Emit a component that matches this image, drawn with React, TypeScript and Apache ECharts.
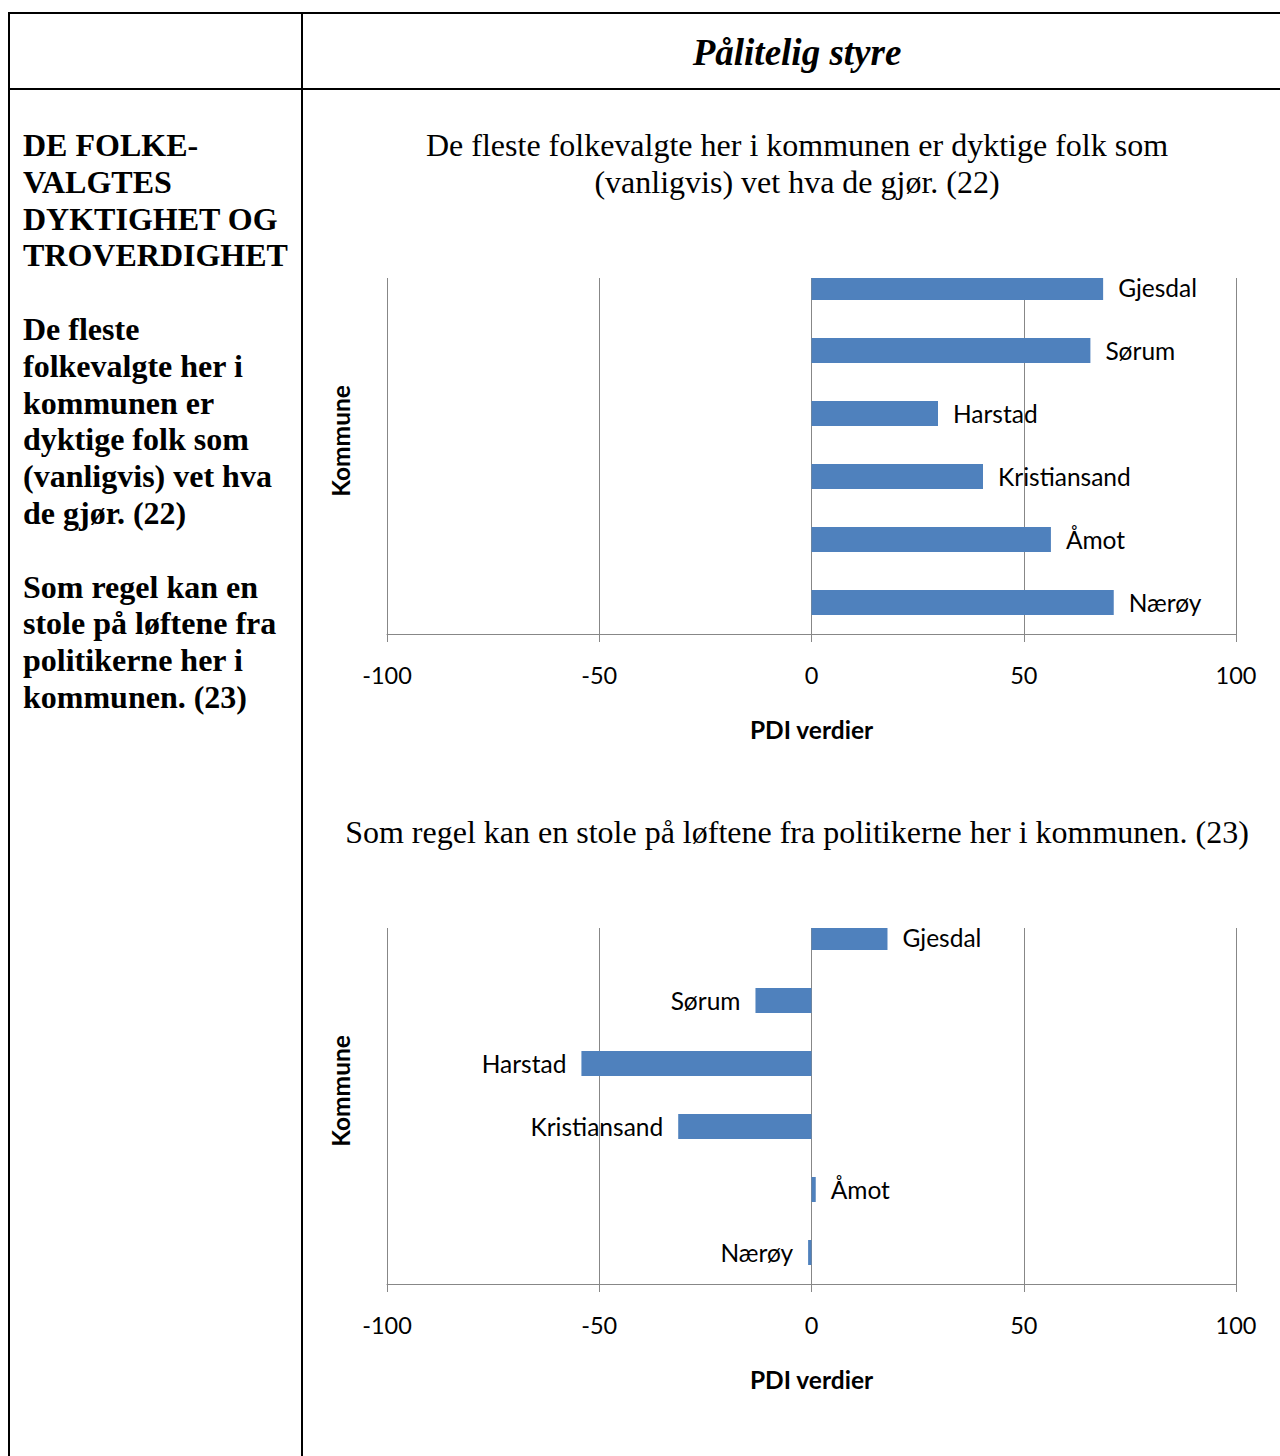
import { useEffect, useRef } from "react";
import * as echarts from "echarts";

const categories = ["Gjesdal", "Sørum", "Harstad", "Kristiansand", "Åmot", "Nærøy"];
const values22 = [68.7, 65.7, 29.8, 40.4, 56.4, 71.2];
const values23 = [17.9, -13.2, -54.2, -31.4, 1.0, -0.8];
const xMin = -100;
const xMax = 100;
const xInterval = 50;

const headerTitle = "Pålitelig styre";
const chart1Title = [
  "De fleste folkevalgte her i kommunen er dyktige folk som",
  "(vanligvis) vet hva de gjør. (22)",
];
const chart2Title = ["Som regel kan en stole på løftene fra politikerne her i kommunen. (23)"];
const leftLines = [
  "DE FOLKE-",
  "VALGTES",
  "DYKTIGHET OG",
  "TROVERDIGHET",
  "",
  "De fleste",
  "folkevalgte her i",
  "kommunen er",
  "dyktige folk som",
  "(vanligvis) vet hva",
  "de gjør. (22)",
  "",
  "Som regel kan en",
  "stole på løftene fra",
  "politikerne her i",
  "kommunen. (23)",
];
const xAxisName = "PDI verdier";
const yAxisName = "Kommune";

const SERIF = "'Liberation Serif', 'Times New Roman', serif";
const SANS = "Lato, Carlito, Calibri, sans-serif";
const GRID_COLOR = "#878787";
const BAR_COLOR = "#4F81BD";

export default function App() {
  const ref = useRef<HTMLDivElement>(null);

  useEffect(() => {
    if (!ref.current) return;
    const chart = echarts.init(ref.current, null, { renderer: "svg" });

    const grids = [
      { left: 387, width: 849, top: 256, height: 378 },
      { left: 387, width: 849, top: 906, height: 378 },
    ];

    const makeX = (gi: number) => ({
      type: "value",
      gridIndex: gi,
      min: xMin,
      max: xMax,
      interval: xInterval,
      splitLine: { show: true, lineStyle: { color: GRID_COLOR, width: 1 } },
      axisLine: { show: true, lineStyle: { color: GRID_COLOR, width: 1 } },
      axisTick: { show: true, length: 8, lineStyle: { color: GRID_COLOR, width: 1 } },
      axisLabel: { fontFamily: SANS, fontSize: 23.5, color: "#000", margin: 29 },
      name: xAxisName,
      nameLocation: "middle",
      nameGap: 83,
      nameTextStyle: { fontFamily: SANS, fontSize: 24.5, fontWeight: "bold", color: "#000" },
    });

    const makeY = (gi: number) => ({
      type: "category",
      gridIndex: gi,
      data: categories,
      inverse: true,
      axisLabel: { show: false },
      axisTick: { show: false },
      axisLine: { show: true, onZero: true, lineStyle: { color: GRID_COLOR, width: 1 } },
      splitLine: { show: false },
    });

    const makeSeries = (vals: number[], gi: number) => ({
      type: "bar",
      xAxisIndex: gi,
      yAxisIndex: gi,
      barWidth: 25,
      itemStyle: { color: BAR_COLOR },
      data: vals.map((v) => ({
        value: v,
        label: { position: v < 0 ? "left" : "right" },
      })),
      label: {
        show: true,
        formatter: "{b}",
        distance: 15,
        fontFamily: SANS,
        fontSize: 24.5,
        color: "#000",
      },
    });

    const lineStyle = { stroke: "#000", lineWidth: 2 };
    const graphics: any[] = [
      { type: "line", shape: { x1: 9, y1: 13, x2: 1280, y2: 13 }, style: lineStyle },
      { type: "line", shape: { x1: 9, y1: 89, x2: 1280, y2: 89 }, style: lineStyle },
      { type: "line", shape: { x1: 9, y1: 12, x2: 9, y2: 1456 }, style: lineStyle },
      { type: "line", shape: { x1: 302, y1: 12, x2: 302, y2: 1456 }, style: lineStyle },
      {
        type: "text",
        x: 797,
        y: 52,
        style: {
          text: headerTitle,
          font: `italic bold 37px ${SERIF}`,
          fill: "#000",
          align: "center",
          verticalAlign: "middle",
        },
      },
      ...leftLines.map((t, i) => ({
        type: "text",
        x: 23,
        y: 145 + i * 36.8,
        style: {
          text: t,
          font: `bold 32px ${SERIF}`,
          fill: "#000",
          align: "left",
          verticalAlign: "middle",
        },
      })),
      ...chart1Title.map((t, i) => ({
        type: "text",
        x: 797,
        y: 145 + i * 37,
        style: { text: t, font: `32px ${SERIF}`, fill: "#000", align: "center", verticalAlign: "middle" },
      })),
      ...chart2Title.map((t, i) => ({
        type: "text",
        x: 797,
        y: 832 + i * 37,
        style: { text: t, font: `32px ${SERIF}`, fill: "#000", align: "center", verticalAlign: "middle" },
      })),
      // crop the top of the plot areas like the embedded picture
      { type: "rect", z: 100, shape: { x: 360, y: 240, width: 900, height: 38 }, style: { fill: "#fff" } },
      { type: "rect", z: 100, shape: { x: 360, y: 890, width: 900, height: 38 }, style: { fill: "#fff" } },
      ...[441, 1091].map((y) => ({
        type: "text",
        x: 340,
        y,
        rotation: Math.PI / 2,
        style: {
          text: yAxisName,
          font: `bold 24.5px ${SANS}`,
          fill: "#000",
          align: "center",
          verticalAlign: "middle",
        },
      })),
    ];

    chart.setOption({
      animation: false,
      backgroundColor: "#fff",
      grid: grids,
      xAxis: [makeX(0), makeX(1)],
      yAxis: [makeY(0), makeY(1)],
      series: [makeSeries(values22, 0), makeSeries(values23, 1)],
      graphic: graphics,
    });

    return () => chart.dispose();
  }, []);

  return (
    <div
      ref={ref}
      style={{ position: "absolute", left: 0, top: 0, width: 1280, height: 1456, background: "#fff" }}
    />
  );
}
